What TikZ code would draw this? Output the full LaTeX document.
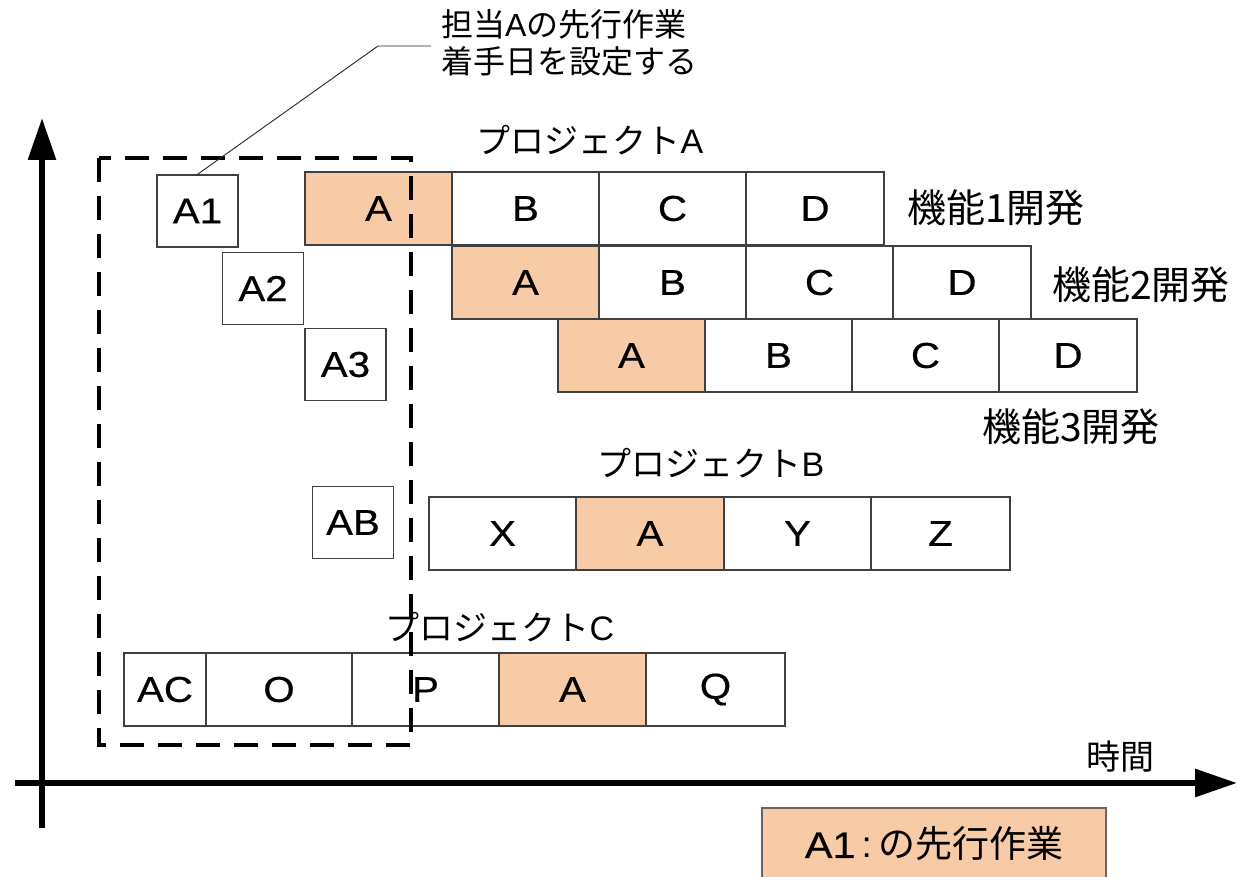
\documentclass[tikz,border=0pt]{standalone}
\usepackage{fontspec}
\setmainfont{Liberation Sans}
\newfontfamily\boxfont[FakeStretch=1.12,FakeBold=0.4]{Liberation Sans}
\newfontfamily\jp{Noto Sans CJK JP}
\usetikzlibrary{arrows.meta}
\definecolor{peach}{HTML}{F8CBA7}
\definecolor{edge}{HTML}{404040}
\begin{document}
\begin{tikzpicture}[x=1pt,y=-1pt,
 cell/.style={draw=edge, line width=1.3pt, minimum height=73pt, minimum width=147pt, inner sep=0pt, font=\boxfont\fontsize{36}{40}\selectfont, fill=white},
 hot/.style={cell, fill=peach},
 smallbox/.style={cell, minimum width=81pt, minimum height=72pt},
 lbl/.style={font=\jp\fontsize{39}{42}\selectfont, inner sep=0pt},
 proj/.style={font=\jp\fontsize{34}{40}\selectfont, inner sep=0pt},
 axis/.style={line width=6pt, -{Triangle[length=42pt,width=27pt]}},
 dashbox/.style={line width=4pt, dash pattern=on 24pt off 14pt},
]
\useasboundingbox (0,0) rectangle (1237,877);
\fill[white] (0,0) rectangle (1237,877);

% axes
\coordinate (yfoot) at (42,828);
\coordinate (ytop) at (42,118);
\coordinate (xfoot) at (15,783);
\coordinate (xend) at (1237,783);
\draw[axis] (yfoot) -- (ytop);
\draw[axis] (xfoot) -- (xend);
\node[font=\jp\fontsize{34}{36}\selectfont, inner sep=0pt] (time) at (1120,757) {時間};

% project A rows
\node[hot]  (r1a) at (378.5,208.5) {A};
\node[cell] (r1b) at (525.5,208.5) {B};
\node[cell] (r1c) at (672.5,208.5) {C};
\node[cell, minimum width=138pt] (r1d) at (815,208.5) {D};

\node[hot]  (r2a) at (525.5,282.5) {A};
\node[cell] (r2b) at (672.5,282.5) {B};
\node[cell] (r2c) at (819.5,282.5) {C};
\node[cell, minimum width=138pt] (r2d) at (962,282.5) {D};

\node[hot]  (r3a) at (631.5,355.5) {A};
\node[cell] (r3b) at (778.5,355.5) {B};
\node[cell] (r3c) at (925.5,355.5) {C};
\node[cell, minimum width=138pt] (r3d) at (1068,355.5) {D};

% project B
\node[cell] (bx) at (502.5,533.5) {X};
\node[hot]  (ba) at (650,533.5) {A};
\node[cell] (by) at (797.5,533.5) {Y};
\node[cell, minimum width=139pt] (bz) at (940.5,533.5) {Z};

% project C
\node[cell, minimum width=82pt] (cac) at (165,689.5) {AC};
\node[cell, minimum width=146pt] (co) at (279,689.5) {O};
\node[cell] (cp) at (425.5,689.5) {P};
\node[hot]  (ca) at (572.5,689.5) {A};
\node[cell, minimum width=139pt] (cq) at (715.5,689.5) {Q};

% small boxes
\node[smallbox] (a1) at (197.5,211) {A1};
\node[smallbox] (a2) at (263,288.5) {A2};
\node[smallbox] (a3) at (345.5,364.5) {A3};
\node[smallbox] (ab) at (353,522.5) {AB};

% dashed box
\draw[dashbox] (99,158) rectangle (411,745);

% labels
\node[proj] (pa) at (590,140) {プロジェクト\fontspec{Liberation Sans}A};
\node[proj] (pb) at (711,463) {プロジェクト\fontspec{Liberation Sans}B};
\node[proj] (pc) at (500,627) {プロジェクト\fontspec{Liberation Sans}C};
\node[lbl] (f1) at (996,208) {機能1開発};
\node[lbl] (f2) at (1141,285) {機能2開発};
\node[lbl] (f3) at (1071,427) {機能3開発};

% callout
\node[font=\jp\fontsize{32}{37}\selectfont, inner sep=0pt, align=left, anchor=north west] (note) at (441,9) {担当\fontspec{Liberation Sans}A\jp の先行作業\\着手日を設定する};
\coordinate (bend) at (378,46);
\coordinate (callend) at (431,46);
\draw[line width=0.9pt, black!85] (a1.north) -- (bend) -- (callend);

% legend
\node[draw=black!60, line width=1.3pt, fill=peach, minimum width=344pt, minimum height=72pt, inner sep=0pt, font=\fontsize{37}{40}\selectfont] (legend) at (934,844) {{\boxfont A1}\,:\,{\jp の先行作業}};
\end{tikzpicture}
\end{document}
